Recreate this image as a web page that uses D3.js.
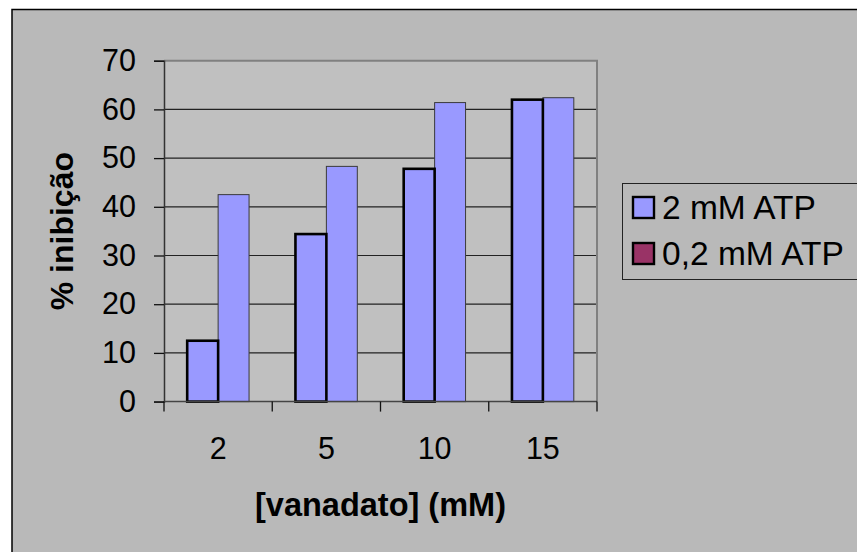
<!DOCTYPE html>
<html>
<head>
<meta charset="utf-8">
<script src="https://cdn.jsdelivr.net/npm/d3@7/dist/d3.min.js"></script>
<style>
  html, body { margin: 0; padding: 0; background: #ffffff; }
  svg { display: block; font-family: "Liberation Sans", Arial, sans-serif; }
</style>
</head>
<body>
<svg id="chart" width="857" height="552"></svg>
<script>
// ---- data ----
const categories = ["2", "5", "10", "15"];
const seriesNames = ["2 mM ATP", "0,2 mM ATP"];
const series1 = [12.5, 34.4, 47.8, 62.0];   // 2 mM ATP
const series2 = [42.5, 48.3, 61.4, 62.4];   // second bar in each group
const yTicks = [0, 10, 20, 30, 40, 50, 60, 70];
const xTitle = "[vanadato] (mM)";
const yTitle = "% inibição";

// ---- layout ----
const W = 857, H = 552;
const plot = { left: 164, right: 597, top: 60.7, bottom: 401.6 };
const svg = d3.select("#chart");

// chart area background with border
svg.append("rect").attr("x", 12).attr("y", 9.5).attr("width", W).attr("height", H)
  .attr("fill", "#b9b9b9").attr("stroke", "#000").attr("stroke-width", 1.5);

// plot area
svg.append("rect").attr("x", plot.left).attr("y", plot.top)
  .attr("width", plot.right - plot.left).attr("height", plot.bottom - plot.top)
  .attr("fill", "#c0c0c0");

const y = d3.scaleLinear().domain([0, 70]).range([plot.bottom, plot.top]);
const x0 = d3.scaleBand().domain(categories).range([plot.left, plot.right])
  .paddingInner(1 - 2 / 3.5).paddingOuter((1 - 2 / 3.5) / 2);
const x1 = d3.scaleBand().domain([0, 1]).range([0, x0.bandwidth()]);
const xb = d3.scaleLinear().domain([0, categories.length]).range([plot.left, plot.right]);

// gridlines
svg.append("g").selectAll("line").data(yTicks.filter(d => d > 0 && d < 70)).join("line")
  .attr("x1", plot.left).attr("x2", plot.right)
  .attr("y1", d => y(d)).attr("y2", d => y(d))
  .attr("stroke", "#222").attr("stroke-width", 1.2);

// plot border top & right (gray)
svg.append("path")
  .attr("d", `M${plot.left},${y(70)} H${plot.right} V${y(0)}`)
  .attr("fill", "none").attr("stroke", "#808080").attr("stroke-width", 2);

// bars
const data = categories.map((c, i) => ({ c, v: [series1[i], series2[i]] }));
const groups = svg.append("g").selectAll("g").data(data).join("g")
  .attr("transform", d => `translate(${x0(d.c)},0)`);

// second series (drawn first, thin border)
groups.append("rect")
  .attr("x", x1(1)).attr("width", x1.bandwidth())
  .attr("y", d => y(d.v[1])).attr("height", d => y(0) - y(d.v[1]))
  .attr("fill", "#9999ff").attr("stroke", "#3a3a3a").attr("stroke-width", 1);

// first series (thick black border)
groups.append("rect")
  .attr("x", x1(0)).attr("width", x1.bandwidth())
  .attr("y", d => y(d.v[0])).attr("height", d => y(0) - y(d.v[0]))
  .attr("fill", "#9999ff").attr("stroke", "#000").attr("stroke-width", 2.6);

// y axis
const yAxis = d3.axisLeft(y).tickValues(yTicks).tickSize(10).tickPadding(18).tickFormat(d3.format("d"));
const gy = svg.append("g").attr("transform", `translate(${plot.left},0)`).call(yAxis);
gy.select(".domain").attr("stroke", "#333").attr("stroke-width", 1.5);
gy.selectAll(".tick line").attr("stroke", "#111").attr("stroke-width", 1.3);
gy.selectAll(".tick text").attr("font-size", 30.5).attr("fill", "#000")
  .attr("font-family", "Liberation Sans, Arial, sans-serif");

// x axis line & boundary ticks
svg.append("line").attr("x1", plot.left).attr("x2", plot.right)
  .attr("y1", y(0)).attr("y2", y(0)).attr("stroke", "#444").attr("stroke-width", 1.5);
svg.append("g").selectAll("line").data(d3.range(categories.length + 1)).join("line")
  .attr("x1", d => xb(d)).attr("x2", d => xb(d))
  .attr("y1", y(0)).attr("y2", y(0) + 10)
  .attr("stroke", "#111").attr("stroke-width", 1.3);

// x tick labels
svg.append("g").selectAll("text").data(categories).join("text")
  .attr("x", d => x0(d) + x0.bandwidth() / 2).attr("y", 459)
  .attr("text-anchor", "middle").attr("font-size", 30.5).attr("fill", "#000")
  .text(d => d);

// axis titles
svg.append("text").attr("x", (plot.left + plot.right) / 2).attr("y", 516)
  .attr("text-anchor", "middle").attr("font-size", 32.5).attr("font-weight", "bold")
  .attr("fill", "#000").text(xTitle);
svg.append("text")
  .attr("transform", `translate(73,${(plot.top + plot.bottom) / 2}) rotate(-90)`)
  .attr("text-anchor", "middle").attr("font-size", 32).attr("font-weight", "bold")
  .attr("fill", "#000").text(yTitle);

// legend
const colors = ["#9999ff", "#993366"];
const lg = svg.append("g");
lg.append("rect").attr("x", 622.5).attr("y", 183.5).attr("width", 260).attr("height", 96)
  .attr("fill", "#b9b9b9").attr("stroke", "#222").attr("stroke-width", 1);
const items = lg.selectAll("g.item").data(seriesNames).join("g").attr("class", "item")
  .attr("transform", (d, i) => `translate(0,${i * 46})`);
items.append("rect").attr("x", 633).attr("y", 197).attr("width", 21).attr("height", 21)
  .attr("fill", (d, i) => colors[i]).attr("stroke", "#000").attr("stroke-width", 2.4);
items.append("text").attr("x", 662).attr("y", 219).attr("font-size", 33.5).attr("fill", "#000")
  .text(d => d);
</script>
</body>
</html>
